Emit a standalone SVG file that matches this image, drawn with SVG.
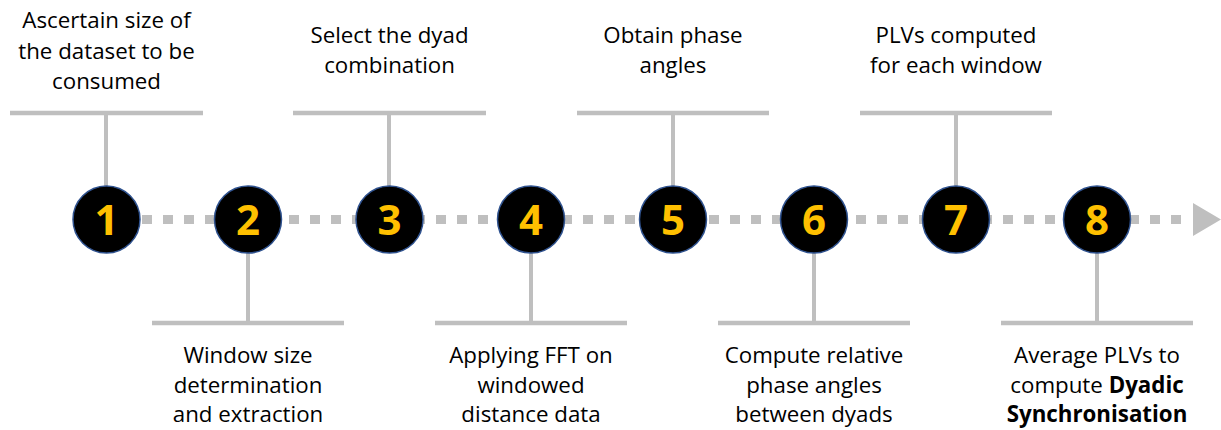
<svg xmlns="http://www.w3.org/2000/svg" width="1221" height="430" viewBox="0 0 1221 430">
<style>
.bar{stroke:#BFBFBF;stroke-width:4.5;fill:none}
.stem{stroke:#BFBFBF;stroke-width:4;fill:none}
.dots{stroke:#BFBFBF;stroke-width:9;stroke-dasharray:10 11;fill:none}
.circ{fill:#000;stroke:#2F528F;stroke-width:1.5}
.num{font-family:"Open Sans","Liberation Sans",sans-serif;font-weight:bold;font-size:42px;fill:#FFC000;text-anchor:middle}
.lbl{font-family:"Open Sans","Liberation Sans",sans-serif;font-size:22.3px;fill:#000;text-anchor:middle}
.b{font-weight:bold}
</style>
<rect width="1221" height="430" fill="#fff"/>
<g id="connectors">
<line class="dots" x1="142" y1="219.5" x2="1192" y2="219.5"/>
<polygon points="1193,203 1221,219.5 1193,236" fill="#BFBFBF"/>
<line class="bar" x1="10" y1="113" x2="203" y2="113"/><line class="stem" x1="106" y1="113" x2="106" y2="186"/>
<line class="bar" x1="293" y1="113" x2="486" y2="113"/><line class="stem" x1="389" y1="113" x2="389" y2="186"/>
<line class="bar" x1="577" y1="113" x2="769" y2="113"/><line class="stem" x1="673" y1="113" x2="673" y2="186"/>
<line class="bar" x1="860" y1="113" x2="1052" y2="113"/><line class="stem" x1="956" y1="113" x2="956" y2="186"/>
<line class="bar" x1="152" y1="323" x2="344" y2="323"/><line class="stem" x1="248" y1="253" x2="248" y2="323"/>
<line class="bar" x1="435" y1="323" x2="627" y2="323"/><line class="stem" x1="531" y1="253" x2="531" y2="323"/>
<line class="bar" x1="718" y1="323" x2="910" y2="323"/><line class="stem" x1="814" y1="253" x2="814" y2="323"/>
<line class="bar" x1="1001" y1="323" x2="1193" y2="323"/><line class="stem" x1="1097" y1="253" x2="1097" y2="323"/>
</g>
<g id="n1"><circle class="circ" cx="106.5" cy="219.5" r="33.5"/><text class="num" x="106.5" y="235">1</text>
<text class="lbl" x="106.5" y="28">Ascertain size of</text><text class="lbl" x="106.5" y="59">the dataset to be</text><text class="lbl" x="106.5" y="89">consumed</text></g>
<g id="n2"><circle class="circ" cx="248" cy="219.5" r="33.5"/><text class="num" x="248" y="235">2</text>
<text class="lbl" x="248" y="363">Window size</text><text class="lbl" x="248" y="393">determination</text><text class="lbl" x="248" y="422">and extraction</text></g>
<g id="n3"><circle class="circ" cx="389.5" cy="219.5" r="33.5"/><text class="num" x="389.5" y="235">3</text>
<text class="lbl" x="389.5" y="43">Select the dyad</text><text class="lbl" x="389.5" y="73">combination</text></g>
<g id="n4"><circle class="circ" cx="531" cy="219.5" r="33.5"/><text class="num" x="531" y="235">4</text>
<text class="lbl" x="531" y="363">Applying FFT on</text><text class="lbl" x="531" y="393">windowed</text><text class="lbl" x="531" y="422">distance data</text></g>
<g id="n5"><circle class="circ" cx="673" cy="219.5" r="33.5"/><text class="num" x="673" y="235">5</text>
<text class="lbl" x="673" y="43">Obtain phase</text><text class="lbl" x="673" y="73">angles</text></g>
<g id="n6"><circle class="circ" cx="814" cy="219.5" r="33.5"/><text class="num" x="814" y="235">6</text>
<text class="lbl" x="814" y="363">Compute relative</text><text class="lbl" x="814" y="393">phase angles</text><text class="lbl" x="814" y="422">between dyads</text></g>
<g id="n7"><circle class="circ" cx="956" cy="219.5" r="33.5"/><text class="num" x="956" y="235">7</text>
<text class="lbl" x="956" y="43">PLVs computed</text><text class="lbl" x="956" y="73">for each window</text></g>
<g id="n8"><circle class="circ" cx="1097" cy="219.5" r="33.5"/><text class="num" x="1097" y="235">8</text>
<text class="lbl" x="1097" y="363">Average PLVs to</text><text class="lbl" x="1097" y="393">compute <tspan class="b">Dyadic</tspan></text><text class="lbl b" x="1097" y="422">Synchronisation</text></g>
</svg>
